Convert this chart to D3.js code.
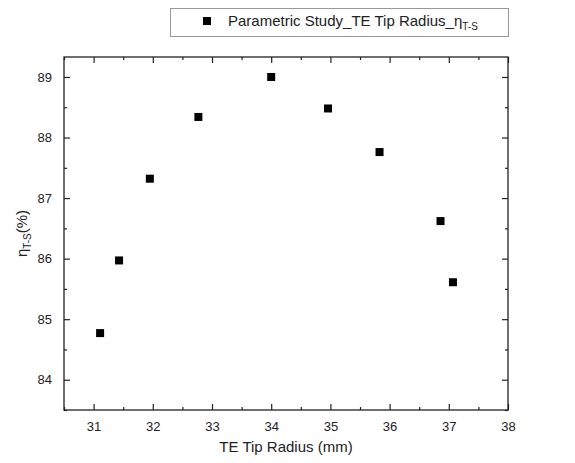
<!DOCTYPE html>
<html><head><meta charset="utf-8">
<script src="https://cdn.jsdelivr.net/npm/d3@7"></script>
<style>body{margin:0;background:#fff;} svg{display:block;font-family:Arial,"Liberation Sans",sans-serif;}</style>
</head><body>
<svg id="c" width="575" height="463"></svg>
<script>
const radius = [31.11, 31.43, 31.95, 32.77, 34.0, 34.96, 35.83, 36.86, 37.07];
const eta = [84.77, 85.97, 87.32, 88.34, 89.0, 88.48, 87.76, 86.62, 85.61];
const xTicks = [31, 32, 33, 34, 35, 36, 37, 38];
const yTicks = [84, 85, 86, 87, 88, 89];
const xMinor = [30.5, 31.5, 32.5, 33.5, 34.5, 35.5, 36.5, 37.5];
const yMinor = [83.5, 84.5, 85.5, 86.5, 87.5, 88.5];
const seriesName = "Parametric Study_TE Tip Radius_";

const svg = d3.select("#c");
const L = 64, R = 508, T = 57, B = 410;
const x = d3.scaleLinear().domain([30.5, 38]).range([L, R]);
const y = d3.scaleLinear().domain([83.5, 89.33]).range([B, T]);

const col = "#222";
// frame
svg.append("rect").attr("x", L).attr("y", T).attr("width", R - L).attr("height", B - T)
  .attr("fill", "none").attr("stroke", col).attr("stroke-width", 1.3);

function styleAxis(g) {
  g.select(".domain").remove();
  g.selectAll(".tick line").attr("stroke", col).attr("stroke-width", 1.2);
  g.selectAll(".tick text").attr("fill", "#222").style("font-size", "13px");
}
// bottom
svg.append("g").attr("transform", `translate(0,${B})`)
  .call(d3.axisBottom(x).tickValues(xTicks).tickFormat(d3.format("d")).tickSizeInner(-6).tickPadding(12))
  .call(styleAxis);
svg.append("g").attr("transform", `translate(0,${B})`)
  .call(d3.axisBottom(x).tickValues(xMinor).tickFormat("").tickSizeInner(-3))
  .call(styleAxis);
// top
svg.append("g").attr("transform", `translate(0,${T})`)
  .call(d3.axisTop(x).tickValues(xTicks).tickFormat("").tickSizeInner(-6))
  .call(styleAxis);
svg.append("g").attr("transform", `translate(0,${T})`)
  .call(d3.axisTop(x).tickValues(xMinor).tickFormat("").tickSizeInner(-3))
  .call(styleAxis);
// left
svg.append("g").attr("transform", `translate(${L},0)`)
  .call(d3.axisLeft(y).tickValues(yTicks).tickFormat(d3.format("d")).tickSizeInner(-6).tickPadding(12))
  .call(styleAxis);
svg.append("g").attr("transform", `translate(${L},0)`)
  .call(d3.axisLeft(y).tickValues(yMinor).tickFormat("").tickSizeInner(-3))
  .call(styleAxis);
// right
svg.append("g").attr("transform", `translate(${R},0)`)
  .call(d3.axisRight(y).tickValues(yTicks).tickFormat("").tickSizeInner(-6))
  .call(styleAxis);
svg.append("g").attr("transform", `translate(${R},0)`)
  .call(d3.axisRight(y).tickValues(yMinor).tickFormat("").tickSizeInner(-3))
  .call(styleAxis);

// points
const data = radius.map((r, i) => ({r, e: eta[i]}));
const s = 8;
svg.append("g").selectAll("rect").data(data).join("rect")
  .attr("x", d => x(d.r) - s / 2).attr("y", d => y(d.e) - s / 2)
  .attr("width", s).attr("height", s).attr("fill", "#000");

// axis titles
svg.append("text").attr("x", (L + R) / 2).attr("y", 452).attr("text-anchor", "middle")
  .style("font-size", "15px").attr("fill", "#222").text("TE Tip Radius (mm)");
const yt = svg.append("text").attr("transform", `translate(27,${(T + B) / 2}) rotate(-90)`)
  .attr("text-anchor", "middle").style("font-size", "15px").attr("fill", "#222");
yt.append("tspan").text("η");
yt.append("tspan").attr("dy", 4).style("font-size", "10px").text("T-S");
yt.append("tspan").attr("dy", -4).text("(%)");

// legend
svg.append("rect").attr("x", 170.5).attr("y", 8.5).attr("width", 338).attr("height", 28)
  .attr("fill", "#fff").attr("stroke", "#999").attr("stroke-width", 1);
svg.append("rect").attr("x", 203).attr("y", 17).attr("width", s).attr("height", s).attr("fill", "#000");
const lt = svg.append("text").attr("x", 228).attr("y", 26).style("font-size", "15px").attr("fill", "#222");
lt.append("tspan").text(seriesName + "η");
lt.append("tspan").attr("dy", 4).style("font-size", "10px").text("T-S");
</script>
</body></html>
